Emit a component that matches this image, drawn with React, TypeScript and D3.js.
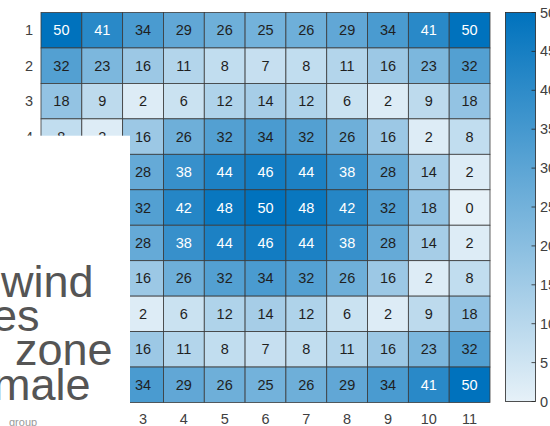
import React, { useEffect, useRef } from "react";
import * as d3 from "d3";

const rowLabels = ["1", "2", "3", "4", "5", "6", "7", "8", "9", "10", "11"];
const colLabels = ["1", "2", "3", "4", "5", "6", "7", "8", "9", "10", "11"];
const row1 = [50, 41, 34, 29, 26, 25, 26, 29, 34, 41, 50];
const row2 = [32, 23, 16, 11, 8, 7, 8, 11, 16, 23, 32];
const row3 = [18, 9, 2, 6, 12, 14, 12, 6, 2, 9, 18];
const row4 = [8, 2, 16, 26, 32, 34, 32, 26, 16, 2, 8];
const row5 = [2, 14, 28, 38, 44, 46, 44, 38, 28, 14, 2];
const row6 = [0, 18, 32, 42, 48, 50, 48, 42, 32, 18, 0];
const row7 = [2, 14, 28, 38, 44, 46, 44, 38, 28, 14, 2];
const row8 = [8, 2, 16, 26, 32, 34, 32, 26, 16, 2, 8];
const row9 = [18, 9, 2, 6, 12, 14, 12, 6, 2, 9, 18];
const row10 = [32, 23, 16, 11, 8, 7, 8, 11, 16, 23, 32];
const row11 = [50, 41, 34, 29, 26, 25, 26, 29, 34, 41, 50];
const matrix = [row1, row2, row3, row4, row5, row6, row7, row8, row9, row10, row11];
const colorTicks = [0, 5, 10, 15, 20, 25, 30, 35, 40, 45, 50];
const overlayWords = [
  { text: "wind", x: 1, y: 297, size: 45 },
  { text: "es", x: -8, y: 331, size: 45 },
  { text: "zone", x: 15, y: 365, size: 45 },
  { text: "male", x: -7, y: 400, size: 45 },
];
const overlaySmall = { text: "group", x: 9, y: 426, size: 11 };

const W = 550;
const H = 426;
const FONT = "'Liberation Sans', Arial, Helvetica, sans-serif";
const FS = 14.5;

export default function App() {
  const ref = useRef<SVGSVGElement>(null);
  useEffect(() => {
    const svg = d3.select(ref.current);
    svg.selectAll("*").remove();
    const left = 41, top = 12.5, right = 490, bottom = 402.5;
    const x = d3.scaleBand().domain(colLabels).range([left, right]);
    const y = d3.scaleBand().domain(rowLabels).range([top, bottom]);
    const lo = d3.rgb(0.9 * 255, 0.9447 * 255, 0.9741 * 255);
    const hi = d3.rgb(0, 0.447 * 255, 0.741 * 255);
    const color = d3.scaleLinear<string>().domain([0, 50]).range([lo.toString(), hi.toString()]).interpolate(d3.interpolateRgb);

    const g = svg.append("g");
    matrix.forEach((row, i) => {
      row.forEach((v, j) => {
        g.append("rect")
          .attr("x", x(colLabels[j])!)
          .attr("y", y(rowLabels[i])!)
          .attr("width", x.bandwidth())
          .attr("height", y.bandwidth())
          .attr("fill", color(v))
          .attr("stroke", "#3a3a3a")
          .attr("stroke-width", 0.8);
        g.append("text")
          .attr("x", x(colLabels[j])! + x.bandwidth() / 2)
          .attr("y", y(rowLabels[i])! + y.bandwidth() / 2)
          .attr("text-anchor", "middle")
          .attr("dominant-baseline", "central")
          .attr("font-family", FONT)
          .attr("font-size", FS)
          .attr("fill", v >= 36 ? "#ffffff" : "#1f1f1f")
          .text(String(v));
      });
    });
    rowLabels.forEach((r) => {
      svg.append("text")
        .attr("x", 33)
        .attr("y", y(r)! + y.bandwidth() / 2)
        .attr("text-anchor", "end")
        .attr("dominant-baseline", "central")
        .attr("font-family", FONT)
        .attr("font-size", FS)
        .attr("fill", "#404040")
        .text(r);
    });
    colLabels.forEach((c) => {
      svg.append("text")
        .attr("x", x(c)! + x.bandwidth() / 2)
        .attr("y", 423.5)
        .attr("text-anchor", "middle")
        .attr("font-family", FONT)
        .attr("font-size", FS)
        .attr("fill", "#404040")
        .text(c);
    });

    const cbL = 505.5, cbR = 535.5, cbT = 12.5, cbB = 401.5;
    const cy = d3.scaleLinear().domain([0, 50]).range([cbB, cbT]);
    const defs = svg.append("defs");
    const grad = defs.append("linearGradient").attr("id", "cbgrad").attr("x1", 0).attr("y1", 1).attr("x2", 0).attr("y2", 0);
    grad.append("stop").attr("offset", "0%").attr("stop-color", color(0));
    grad.append("stop").attr("offset", "100%").attr("stop-color", color(50));
    svg.append("rect")
      .attr("x", cbL).attr("y", cbT).attr("width", cbR - cbL).attr("height", cbB - cbT)
      .attr("fill", "url(#cbgrad)").attr("stroke", "#262626").attr("stroke-width", 0.8);
    colorTicks.forEach((t) => {
      svg.append("line")
        .attr("x1", cbR - 4).attr("x2", cbR)
        .attr("y1", cy(t)).attr("y2", cy(t))
        .attr("stroke", "#262626").attr("stroke-width", 0.8);
      svg.append("text")
        .attr("x", 540)
        .attr("y", cy(t))
        .attr("dominant-baseline", "central")
        .attr("font-family", FONT)
        .attr("font-size", FS)
        .attr("fill", "#404040")
        .text(String(t));
    });

    svg.append("rect").attr("x", 0).attr("y", 135.7).attr("width", 130).attr("height", H - 135.7).attr("fill", "#ffffff");
    const clip = defs.append("clipPath").attr("id", "ovclip");
    clip.append("rect").attr("x", 0).attr("y", 135.7).attr("width", 130).attr("height", H - 135.7);
    const og = svg.append("g").attr("clip-path", "url(#ovclip)");
    overlayWords.forEach((w) => {
      og.append("text")
        .attr("x", w.x).attr("y", w.y)
        .attr("font-family", FONT)
        .attr("font-size", w.size)
        .attr("fill", "#555555")
        .text(w.text);
    });
    og.append("text")
      .attr("x", overlaySmall.x).attr("y", overlaySmall.y)
      .attr("font-family", FONT)
      .attr("font-size", overlaySmall.size)
      .attr("fill", "#9a9a9a")
      .text(overlaySmall.text);
  }, []);
  return (
    <svg ref={ref} width={W} height={H} style={{ position: "fixed", left: 0, top: 0, background: "#fff" }} />
  );
}
